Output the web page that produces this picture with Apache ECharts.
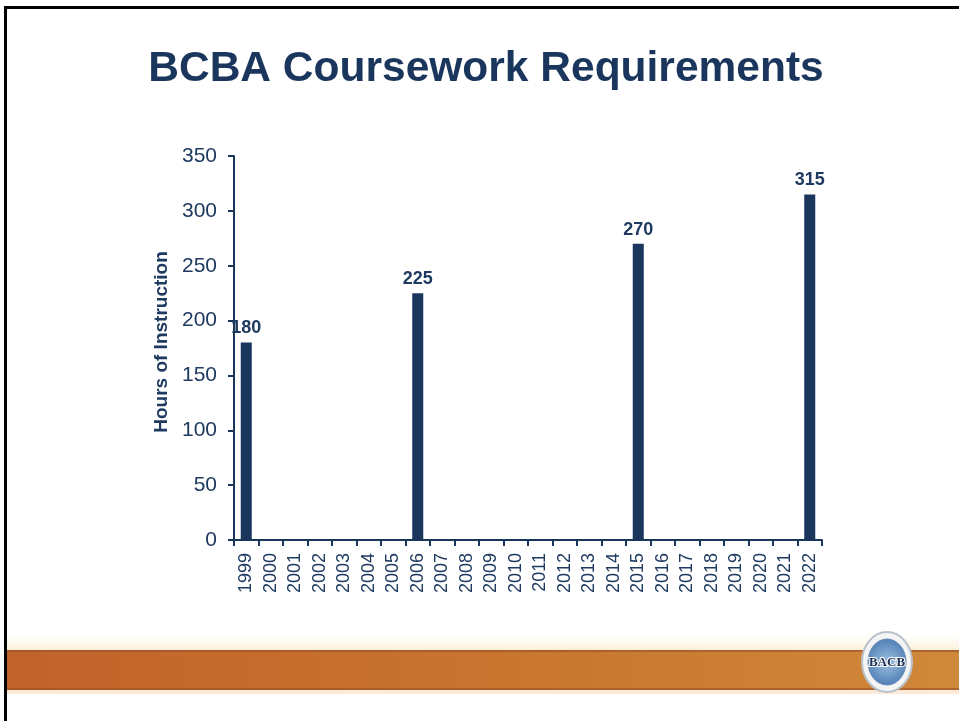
<!DOCTYPE html>
<html>
<head>
<meta charset="utf-8">
<script src="https://cdn.jsdelivr.net/npm/echarts@6/dist/echarts.min.js"></script>
<style>
html,body{margin:0;padding:0;background:#fff;}
#chart{width:959px;height:721px;}
</style>
</head>
<body>
<div id="chart"></div>
<script>
const titleText = 'BCBA Coursework Requirements';
const yAxisName = 'Hours of Instruction';
const years = ['1999','2000','2001','2002','2003','2004','2005','2006','2007','2008','2009','2010','2011','2012','2013','2014','2015','2016','2017','2018','2019','2020','2021','2022'];
const hours = [180,null,null,null,null,null,null,225,null,null,null,null,null,null,null,null,270,null,null,null,null,null,null,315];
const yTicks = [0,50,100,150,200,250,300,350];

const navy = '#1b365d';
const textNavy = '#1f3a60';
const chart = echarts.init(document.getElementById('chart'), null, {renderer:'canvas'});
chart.setOption({
  backgroundColor:'#ffffff',
  animation:false,
  title:{
    text:titleText,
    left:481, textAlign:'center', top:43,
    textStyle:{fontFamily:'Liberation Sans, Arial, sans-serif', fontWeight:'bold', fontSize:42.5, color:'#1b365d'}
  },
  grid:{left:234, right:137, top:156, bottom:181, containLabel:false},
  xAxis:{
    type:'category', data:years,
    axisLine:{lineStyle:{color:navy, width:2}},
    axisTick:{show:true, length:6, lineStyle:{color:navy, width:2}, alignWithLabel:false},
    axisLabel:{interval:0, rotate:90, margin:13, fontSize:18, color:textNavy, fontFamily:'Liberation Sans, Arial, sans-serif'},
    splitLine:{show:false}
  },
  yAxis:{
    type:'value', min:yTicks[0], max:yTicks[yTicks.length-1], interval:50,
    name:yAxisName, nameLocation:'middle', nameGap:60, nameRotate:90,
    nameTextStyle:{fontFamily:'Liberation Sans, Arial, sans-serif', fontWeight:'bold', fontSize:19, color:textNavy, padding:[0,0,0,12]},
    axisLine:{show:true, lineStyle:{color:navy, width:2}},
    axisTick:{show:true, length:6, lineStyle:{color:navy, width:2}},
    axisLabel:{margin:17, fontSize:21, color:textNavy, fontFamily:'Liberation Sans, Arial, sans-serif'},
    splitLine:{show:false}
  },
  series:[{
    type:'bar', data:hours, barWidth:11,
    itemStyle:{color:navy},
    label:{show:true, position:'top', distance:5, fontWeight:'bold', fontSize:18, color:textNavy, fontFamily:'Liberation Sans, Arial, sans-serif'}
  }],
  graphic:[
    {type:'line', shape:{x1:5.5,y1:7.5,x2:959,y2:7.5}, style:{stroke:'#000', lineWidth:3}},
    {type:'line', shape:{x1:5.5,y1:6,x2:5.5,y2:721}, style:{stroke:'#000', lineWidth:3}},
    {type:'rect', shape:{x:7,y:632,width:952,height:18}, style:{fill:new echarts.graphic.LinearGradient(0,0,0,1,[{offset:0,color:'rgba(255,250,235,0)'},{offset:1,color:'rgba(250,235,210,0.8)'}])}},
    {type:'rect', shape:{x:7,y:650,width:952,height:40}, style:{fill:new echarts.graphic.LinearGradient(0,0,1,0,[{offset:0,color:'#c2622b'},{offset:0.5,color:'#c8742f'},{offset:1,color:'#d0883a'}])}},
    {type:'rect', shape:{x:7,y:650,width:952,height:2}, style:{fill:'rgba(150,80,40,0.6)'}},
    {type:'rect', shape:{x:7,y:688,width:952,height:2}, style:{fill:'rgba(150,80,40,0.6)'}},
    {type:'rect', shape:{x:7,y:690,width:952,height:4}, style:{fill:'rgba(250,220,190,0.6)'}},
    {type:'ellipse', shape:{cx:887,cy:662,rx:25,ry:30}, style:{fill:'#f4f4f4', stroke:'#b8c0cc', lineWidth:2}},
    {type:'ellipse', shape:{cx:887,cy:662,rx:19,ry:23}, style:{fill:new echarts.graphic.RadialGradient(0.5,0.5,0.6,[{offset:0,color:'#9fc0e0'},{offset:1,color:'#4e7fb5'}]), stroke:'#6a8cb8', lineWidth:1}},
    {type:'text', style:{x:887, y:663, text:'BACB', align:'center', verticalAlign:'middle', font:'bold 13px "Liberation Serif", serif', fill:'#1b2f55', stroke:'#ffffff', lineWidth:2}}
  ]
});
</script>
</body>
</html>
